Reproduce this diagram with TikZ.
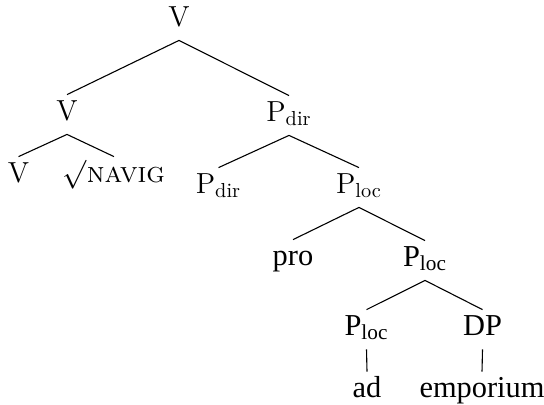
\documentclass[tikz,border=0pt]{standalone}
\usepackage{fontspec}
\newfontfamily\tms{Liberation Serif}
\tikzset{
  lab/.style={anchor=base, inner sep=0pt, text height=12.5pt, text depth=7pt,
              font=\fontsize{14.5}{17}\selectfont},
  lmlab/.style={lab},
  tmlab/.style={lab, font=\fontsize{15.2}{18}\selectfont\tms},
  edge/.style={line width=0.55pt}
}
\begin{document}
\begin{tikzpicture}[x=0.5pt, y=-0.5pt]
  \useasboundingbox (0,0) rectangle (544,404);
  % upper part of the tree
  \node[lmlab] (root)  at (179,26)  {V};
  \node[lmlab] (v1)    at (67,120)  {V};
  \node[lmlab] (pdir1) at (289,121) {P\textsubscript{dir}};
  \node[lmlab] (v2)    at (18.5,182) {V};
  \node[lmlab] (navig) at (114,182) {$\surd$\textsc{navig}};
  \node[lmlab] (pdir2) at (218.5,193) {P\textsubscript{dir}};
  \node[lmlab] (ploc1) at (359,193) {P\textsubscript{loc}};
  % lower part of the tree
  \node[tmlab] (pro)   at (293,265) {pro};
  \node[tmlab] (ploc2) at (425,266) {P\textsubscript{loc}};
  \node[tmlab] (ploc3) at (366.5,335) {P\textsubscript{loc}};
  \node[tmlab] (dp)    at (482.5,335) {DP};
  \node[tmlab] (ad)    at (367,397) {ad};
  \node[tmlab] (emp)   at (482,397) {emporium};
  % branches
  \draw[edge] (v1.north) -- (root.south) -- (pdir1.north);
  \draw[edge] (v2.north) -- (v1.south) -- (navig.north);
  \draw[edge] (pdir2.north) -- (pdir1.south) -- (ploc1.north);
  \draw[edge] (pro.north) -- (ploc1.south) -- (ploc2.north);
  \draw[edge] (ploc3.north) -- (ploc2.south) -- (dp.north);
  \draw[edge] (ploc3.south) -- (ad.north);
  \draw[edge] (dp.south) -- (emp.north);
\end{tikzpicture}
\end{document}
